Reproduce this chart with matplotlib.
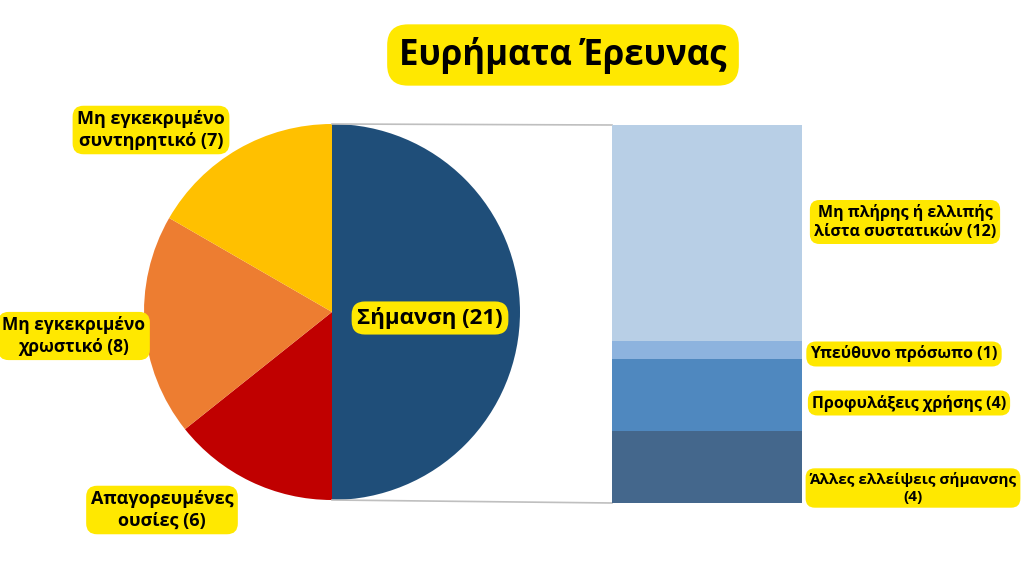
import matplotlib.pyplot as plt

# pie data (clockwise from top)
pie_labels = ["Σήμανση (21)", "Απαγορευμένες\nουσίες (6)", "Μη εγκεκριμένο\nχρωστικό (8)",
              "Μη εγκεκριμένο\nσυντηρητικό (7)"]
pie_values = [21, 6, 8, 7]
pie_colors = ["#1F4E79", "#C00000", "#ED7D31", "#FFC000"]

# breakdown of "Σήμανση", bottom to top
bar_labels = ["Άλλες ελλείψεις σήμανσης\n(4)", "Προφυλάξεις χρήσης (4)",
              "Υπεύθυνο πρόσωπο (1)", "Μη πλήρης ή ελλιπής\nλίστα συστατικών (12)"]
bar_values = [4, 4, 1, 12]
bar_colors = ["#44678C", "#4F88BF", "#8DB3DE", "#B8CFE6"]

title = "Ευρήματα Έρευνας"

W, H = 1024, 576
yellow = "#FFE800"
font = ["Open Sans", "DejaVu Sans"]

fig = plt.figure(figsize=(W / 100, H / 100), dpi=100)
ax = fig.add_axes([0, 0, 1, 1])

# pie
cx, cy, r = 332, H - 312, 188
ax.pie(pie_values, colors=pie_colors, startangle=90, counterclock=False,
       center=(cx, cy), radius=r, frame=True,
       wedgeprops=dict(linewidth=0))
ax.set_xlim(0, W)
ax.set_ylim(0, H)
ax.set_aspect("auto")
ax.axis("off")

# stacked bar in its own axes
bx0, by0, bw, bh = 612, H - 503, 190, 378
bax = fig.add_axes([bx0 / W, by0 / H, bw / W, bh / H])
bottom = 0
for v, c in zip(bar_values, bar_colors):
    bax.bar(0, v, width=1, bottom=bottom, color=c, linewidth=0)
    bottom += v
bax.set_xlim(-0.5, 0.5)
bax.set_ylim(0, sum(bar_values))
bax.axis("off")

# connector lines
ax.plot([cx, bx0], [cy + r, by0 + bh], color="#BFBFBF", lw=1.2)
ax.plot([cx, bx0], [cy - r, by0], color="#BFBFBF", lw=1.2)

box = dict(boxstyle="round,pad=0.25,rounding_size=0.6", fc=yellow, ec="none")

# title
ax.text(563, H - 55, title, ha="center", va="center", fontsize=25,
        fontweight="bold", family=font,
        bbox=dict(boxstyle="round,pad=0.35,rounding_size=0.6", fc=yellow, ec="none"))

# pie labels
pie_pos = [(430, 318), (162, 510), (74, 336), (151, 130)]
pie_sizes = [16, 13, 12.5, 13]
for lab, (x, y), fs in zip(pie_labels, pie_pos, pie_sizes):
    ax.text(x, H - y, lab, ha="center", va="center", family=font,
            fontsize=fs, fontweight="bold", linespacing=1.25, bbox=box)

# bar labels
bar_pos = [(913, 488), (909, 403), (904, 354), (905, 222)]
bar_sizes = [11, 11.5, 11.5, 11.5]
for lab, (x, y), fs in zip(bar_labels, bar_pos, bar_sizes):
    ax.text(x, H - y, lab, ha="center", va="center", family=font,
            fontsize=fs, fontweight="bold", linespacing=1.25, bbox=box)

fig.savefig("out.png", dpi=100, facecolor="white")
